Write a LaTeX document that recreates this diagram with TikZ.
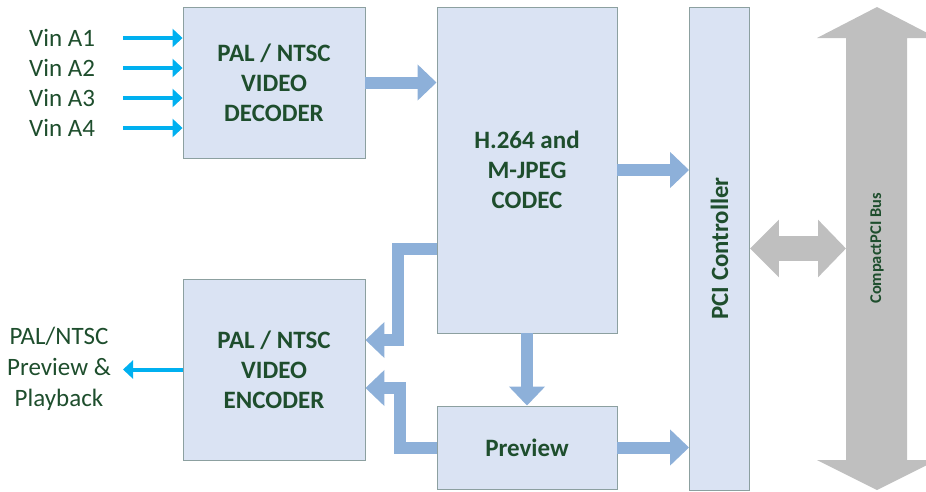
\documentclass[tikz,border=0pt]{standalone}
\usepackage{fontspec}
\setmainfont{Carlito}
\usetikzlibrary{arrows.meta}
\definecolor{txtgreen}{RGB}{30,78,45}
\definecolor{boxfill}{RGB}{218,227,243}
\definecolor{boxline}{RGB}{140,160,160}
\definecolor{fatblue}{RGB}{141,176,217}
\definecolor{cyanline}{RGB}{0,176,240}
\definecolor{busgray}{RGB}{191,191,191}
\tikzset{
  blk/.style={draw=boxline, line width=0.9pt, fill=boxfill, inner sep=0pt, text=txtgreen,
    font=\fontsize{25}{30}\selectfont\bfseries, align=center},
  fat/.style={draw=fatblue, line width=12pt, line join=miter, -{Triangle[width=35pt,length=19pt]}},
  vin/.style={draw=cyanline, line width=4pt, -{Triangle[width=18pt,length=10pt]}},
  lbl/.style={text=txtgreen, font=\fontsize{25}{31}\selectfont, align=center, inner sep=0pt},
}
\begin{document}
\begin{tikzpicture}[x=1pt,y=-1pt]
\useasboundingbox (0,0) rectangle (926,491);
\clip (0,0) rectangle (926,491);
% blocks
\node[blk, minimum width=182pt, minimum height=151pt] (dec) at (274,82.5) {PAL / NTSC\\VIDEO\\DECODER};
\node[blk, minimum width=180pt, minimum height=326pt] (codec) at (527,170) {H.264 and\\M-JPEG\\CODEC};
\node[blk, minimum width=182pt, minimum height=181pt] (enc) at (274,369.5) {PAL / NTSC\\VIDEO\\ENCODER};
\node[blk, minimum width=180pt, minimum height=83pt] (prev) at (527,447.5) {Preview};
\node[blk, minimum width=60pt, minimum height=483pt] (pci) at (719.5,248.5) {};
\node[text=txtgreen, font=\fontsize{24.8}{28}\selectfont\bfseries, rotate=90] (pcil) at (pci.center) {PCI Controller};
% bus
\fill[busgray] (877,7) -- (937,38) -- (907,38) -- (907,460) -- (937,460) -- (877,490)
  -- (817,460) -- (846,460) -- (846,38) -- (817,38) -- cycle;
\coordinate (busl) at (846,248.5);
\node[text=txtgreen, font=\fontsize{16.4}{19}\selectfont\bfseries, rotate=90] (busn) at (877,248.5) {CompactPCI Bus};
\draw[draw=busgray, line width=25pt, {Triangle[width=56pt,length=29pt]}-{Triangle[width=56pt,length=28pt]}] (pci.east) -- (pci.east -| busl);
% fat arrows
\draw[fat] (dec.east) -- (dec.east -| codec.west);
\draw[fat] (codec.east) -- (codec.east -| pci.west);
\draw[fat] (prev.east) -- (prev.east -| pci.west);
\draw[fat] (codec.south) -- (prev.north);
\draw[fat] ([yshift=-79pt]codec.west) -| ([xshift=33pt,yshift=29.5pt]enc.east) -- ([yshift=29.5pt]enc.east);
\draw[fat] (prev.west) -| ([xshift=35pt,yshift=-18.5pt]enc.east) -- ([yshift=-18.5pt]enc.east);
% inputs
\node[lbl, anchor=west] (l1) at (29,38) {Vin A1};
\node[lbl, anchor=west] (l2) at (29,68) {Vin A2};
\node[lbl, anchor=west] (l3) at (29,98) {Vin A3};
\node[lbl, anchor=west] (l4) at (29,128) {Vin A4};
\coordinate (s1) at (123,38);
\coordinate (s2) at (123,68);
\coordinate (s3) at (123,98);
\coordinate (s4) at (123,128);
\draw[vin] (s1) -- (s1 -| dec.west);
\draw[vin] (s2) -- (s2 -| dec.west);
\draw[vin] (s3) -- (s3 -| dec.west);
\draw[vin] (s4) -- (s4 -| dec.west);
% output
\node[lbl] (outl) at (59,369) {PAL/NTSC\\Preview \&\\Playback};
\coordinate (o1) at (123,369.5);
\draw[vin] (enc.west) -- (o1);
\end{tikzpicture}
\end{document}
